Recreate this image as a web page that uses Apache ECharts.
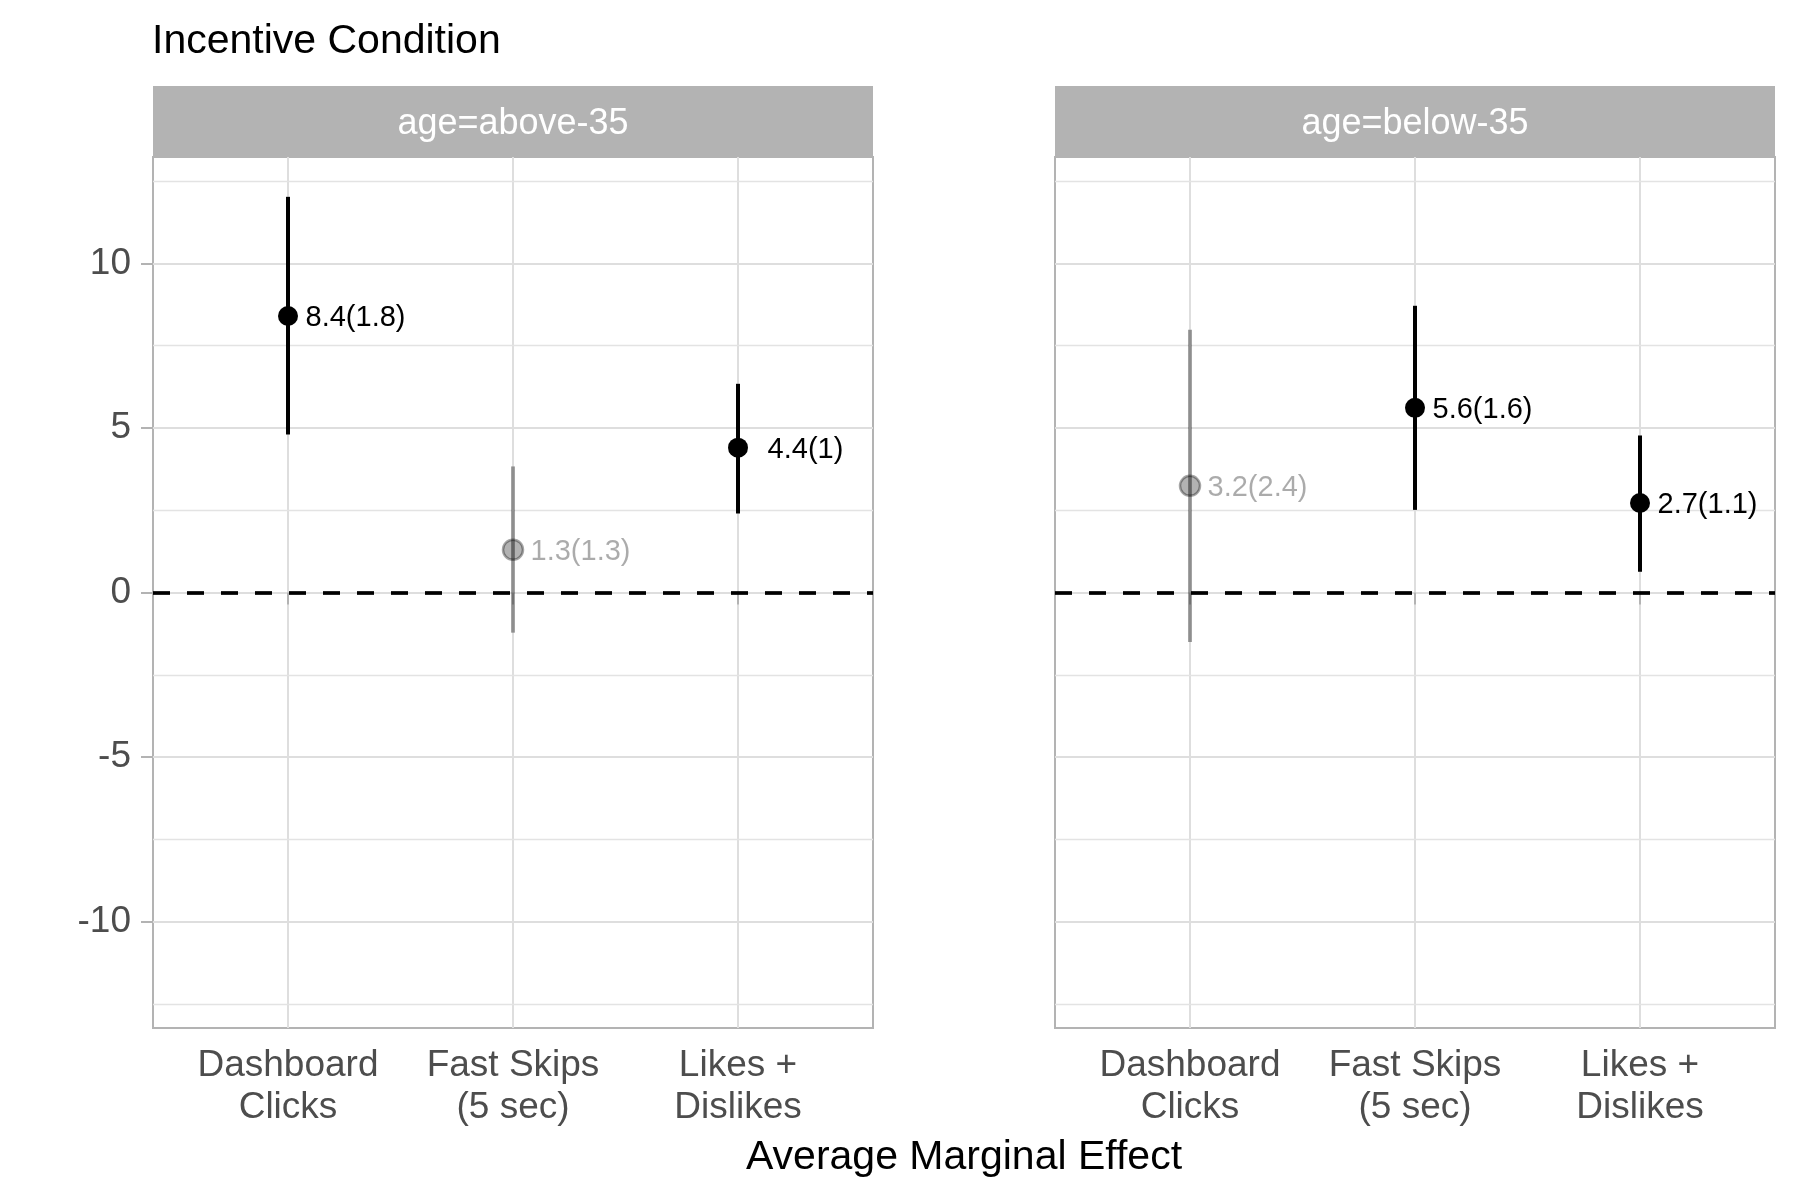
<!DOCTYPE html>
<html lang="en">

<head>
    <meta charset="UTF-8">
    <title>Incentive Condition</title>
    <script src="https://cdn.jsdelivr.net/npm/echarts@6.0.0/dist/echarts.min.js"></script>
    <style>
        html, body { margin: 0; padding: 0; background: #fff; }
        #chart { width: 1800px; height: 1200px; }
    </style>
</head>

<body>
    <div id="chart"></div>

    <script>
        // data
        const categories = ['Dashboard\nClicks', 'Fast Skips\n(5 sec)', 'Likes +\nDislikes'];
        const panels = ['age=above-35', 'age=below-35'];
        const yTicks = [-10, -5, 0, 5, 10];
        const yMinor = [-12.5, -7.5, -2.5, 2.5, 7.5, 12.5];

        const aboveEst = [8.4, 1.3, 4.4];
        const aboveLow = [4.8, -1.22, 2.4];
        const aboveHigh = [12.02, 3.83, 6.34];
        const aboveLabels = ['8.4(1.8)', '1.3(1.3)', '4.4(1)'];

        const belowEst = [3.24, 5.61, 2.72];
        const belowLow = [-1.5, 2.51, 0.63];
        const belowHigh = [7.98, 8.71, 4.77];
        const belowLabels = ['3.2(2.4)', '5.6(1.6)', '2.7(1.1)'];

        const FONT = '"Liberation Sans", Arial, Helvetica, sans-serif';
        const GRID_TOP = 157, GRID_H = 871;
        const gridLefts = [153, 1055], GRID_W = 720;

        const chart = echarts.init(document.getElementById('chart'));

        function isSig(lo, hi) { return lo > 0 || hi < 0; }

        function panelSeries(i, est, low, high, labels) {
            const errData = est.map((v, k) => [k + 1, low[k], high[k], isSig(low[k], high[k]) ? 1 : 0]);
            const ptData = est.map((v, k) => {
                const sig = isSig(low[k], high[k]);
                return {
                    value: [k + 1, v],
                    name: labels[k],
                    itemStyle: sig
                        ? { color: '#000', opacity: 1, borderWidth: 0 }
                        : { color: 'rgba(0,0,0,0.3)', opacity: 1, borderColor: 'rgba(0,0,0,0.35)', borderWidth: 2.5 },
                    label: { color: sig ? '#000' : 'rgba(0,0,0,0.33)' }
                };
            });
            return [
                {
                    // minor gridlines + dashed zero line
                    type: 'line',
                    xAxisIndex: i, yAxisIndex: i,
                    data: [],
                    silent: true,
                    markLine: {
                        silent: true,
                        z: 1,
                        symbol: 'none',
                        animation: false,
                        label: { show: false },
                        data: yMinor.map(v => ({ yAxis: v, lineStyle: { color: '#e3e3e3', width: 1.3, type: 'solid' } }))
                            .concat([{ yAxis: 0, lineStyle: { color: '#000', width: 3.7, type: [17, 17] } }])
                    }
                },
                {
                    type: 'custom',
                    xAxisIndex: i, yAxisIndex: i,
                    z: 2,
                    animation: false,
                    data: errData,
                    renderItem(params, api) {
                        const p1 = api.coord([api.value(0), api.value(1)]);
                        const p2 = api.coord([api.value(0), api.value(2)]);
                        return {
                            type: 'line',
                            shape: { x1: p1[0], y1: p1[1], x2: p2[0], y2: p2[1] },
                            style: { stroke: api.value(3) ? '#000' : 'rgba(0,0,0,0.36)', lineWidth: 4 }
                        };
                    }
                },
                {
                    type: 'scatter',
                    xAxisIndex: i, yAxisIndex: i,
                    z: 3,
                    animation: false,
                    symbolSize: 20,
                    data: ptData,
                    label: {
                        show: true,
                        position: 'inside',
                        offset: [67.5, 2],
                        fontFamily: FONT,
                        fontSize: 29,
                        formatter: p => p.name
                    }
                }
            ];
        }

        const option = {
            backgroundColor: '#fff',
            animation: false,
            title: {
                text: 'Incentive Condition',
                left: 147, top: 16,
                textStyle: { fontFamily: FONT, fontSize: 41, fontWeight: 'normal', color: '#000' }
            },
            grid: gridLefts.map(l => ({
                left: l, top: GRID_TOP, width: GRID_W, height: GRID_H,
                show: true, borderColor: '#b3b3b3', borderWidth: 2, backgroundColor: '#fff'
            })),
            xAxis: gridLefts.map((l, i) => ({
                type: 'value',
                gridIndex: i,
                min: 0.4, max: 3.6,
                axisLine: { show: false },
                axisTick: { show: true, customValues: [1, 2, 3], length: 12, lineStyle: { color: '#b3b3b3', width: 2 } },
                axisLabel: {
                    customValues: [1, 2, 3],
                    formatter: v => categories[Math.round(v) - 1],
                    fontFamily: FONT, fontSize: 37, lineHeight: 42, color: '#4d4d4d', margin: 17
                },
                splitLine: { show: true, lineStyle: { color: '#dedede', width: 2 } }
            })),
            yAxis: gridLefts.map((l, i) => ({
                type: 'value',
                gridIndex: i,
                min: -13.23, max: 13.23,
                axisLine: { show: false },
                axisTick: { show: i === 0, customValues: yTicks, length: 12, lineStyle: { color: '#b3b3b3', width: 2 } },
                axisLabel: {
                    show: i === 0,
                    customValues: yTicks,
                    fontFamily: FONT, fontSize: 37, color: '#4d4d4d', margin: 22
                },
                splitLine: { show: true, lineStyle: { color: '#dedede', width: 2 } }
            })),
            graphic: gridLefts.map((l, i) => ({
                type: 'group',
                children: [
                    { type: 'rect', shape: { x: l, y: 86, width: GRID_W, height: 71 }, style: { fill: '#b3b3b3' } },
                    {
                        type: 'text', x: l + GRID_W / 2, y: 124,
                        style: { text: panels[i], fill: '#fff', font: '36px ' + FONT, textAlign: 'center', textVerticalAlign: 'middle' }
                    }
                ]
            })).concat([{
                type: 'text', x: 964, y: 1158,
                style: { text: 'Average Marginal Effect', fill: '#000', font: '41px ' + FONT, textAlign: 'center', textVerticalAlign: 'middle' }
            }]),
            series: panelSeries(0, aboveEst, aboveLow, aboveHigh, aboveLabels)
                .concat(panelSeries(1, belowEst, belowLow, belowHigh, belowLabels))
        };

        chart.setOption(option);
    </script>
</body>

</html>
